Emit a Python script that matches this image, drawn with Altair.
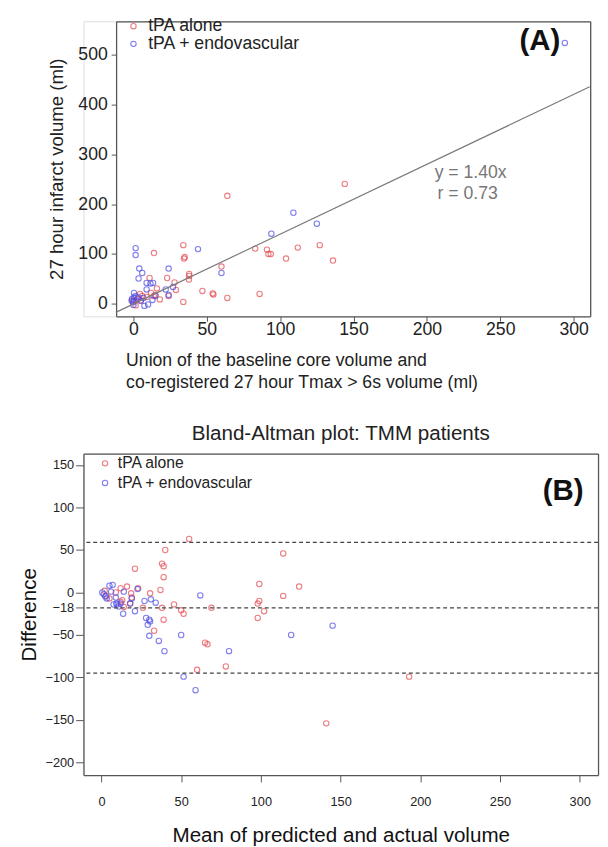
import altair as alt
import pandas as pd

# ---------------- Panel A data ----------------
groups = ["tPA alone", "tPA + endovascular"]
a_red_x = [144, 64, 34, 14, 35, 34.5, 83, 91, 92, 93.6, 112, 127, 104, 136, 60, 38, 38, 37.8, 23, 11,
           28, 47, 54, 54.5, 64, 86, 34, 29, 16, 18, 24, 12, 13.8, 6, 4.5, 2.7, 1.5, -0.5, 15, 0.5, 5, 9]
a_red_y = [241, 217, 118, 102, 94, 91, 111, 109, 100, 100, 113, 118, 91, 87, 75, 60, 56, 49, 52, 52,
           43, 26, 21, 19, 12, 20, 4, 28, 31, 9, 16, 22, 16, 16, 20, 10, -3, 4.6, 18, 8, 6, 14]
a_blue_x = [294, 109, 125, 94, 44, 1.5, 1.5, 24, 4, 6, 3.5, 60, 9, 11.6, 13.4, 9, 22, 27, 24, 13,
            10, 7.5, 15, 0.4, 0.4, -1, 0, 3.3, 5, 0, 1.5, -1.2, 6.8]
a_blue_y = [524, 183, 161, 141, 110, 112, 98, 71, 71, 62, 51, 62, 42, 41, 42, 29, 29, 34, 18, 8,
            -1, -4, 16, 22, 13, 10, 3.5, 13, 7, -2, 16, 6.5, 12]
fit_x = [-12, 311]
fit_y = [-17, 436]
a_xticks = [0, 50, 100, 150, 200, 250, 300]
a_yticks = [0, 100, 200, 300, 400, 500]

# ---------------- Panel B data ----------------
b_red_x = [55, 40, 114, 21, 38, 39, 39, 99, 124, 37, 30.5, 23, 16, 12, 114, 99, 98, 102, 69, 45.5,
           38, 50, 51.5, 39, 98, 26, 33, 65, 66.5, 60, 78, 193, 141, 18.6, 19, 13, 14, 18, 5, 3, 2, 9, 12]
b_red_y = [63, 50, 46, 28, 34, 31, 18, 10, 7, 3, -1, 5, 7, 5, -4, -10, -13, -22, -18, -14,
           -18, -21, -25, -32, -30, -18, -45, -59, -61, -91, -87, -99, -154, -1, -6, -9, -17, -13, -7, -4, 2, 0, -11]
b_blue_x = [145, 119, 62, 80, 50, 51.5, 59, 39.5, 36, 30, 29, 28, 30, 30.5, 27, 31, 34, 21, 13.6, 14,
            7, 5, 9, 7.6, 9.3, 10.7, 10, 6, 0.5, 1.4, 2.4, 3.3, 19, 18, 22.6, 12]
b_blue_y = [-39, -50, -3.5, -69, -50, -99, -115, -69, -57, -51, -38, -30, -32, -34, -10, -8, -12, -22, -25, 1,
            9, 8, -6, -14, -13, -16.5, -14, 1, 0, -2, -4.6, -7, -7, -13, 4, -13]
b_lines = [59, -18, -95]
b_xticks = [0, 50, 100, 150, 200, 250, 300]
b_yticks = [150, 100, 50, 0, -18, -50, -100, -150, -200]

RED = "#e5484d"
BLUE = "#4a4ae6"
FONT = "Liberation Sans"
AXC = "#555555"

dfA = pd.DataFrame({
    "x": a_red_x + a_blue_x,
    "y": a_red_y + a_blue_y,
    "group": [groups[0]] * len(a_red_x) + [groups[1]] * len(a_blue_x),
})
dfFit = pd.DataFrame({"x": fit_x, "y": fit_y})
dfAnnA = pd.DataFrame({"x": [277, 205.3, 207.3], "y": [528, 262, 220],
                       "t": ["(A)", "y = 1.40x", "r = 0.73"], "k": ["big", "eq", "eq"]})

dfB = pd.DataFrame({
    "x": b_red_x + b_blue_x,
    "y": b_red_y + b_blue_y,
    "group": [groups[0]] * len(b_red_x) + [groups[1]] * len(b_blue_x),
})
dfLines = pd.DataFrame({"y": b_lines})
dfAnnB = pd.DataFrame({"x": [289.6], "y": [119], "t": ["(B)"]})

color_scale = alt.Scale(domain=groups, range=[RED, BLUE])

# ---------------- Panel A ----------------
xA = alt.Scale(domain=[-11.8, 311.3], range=[33.3, 517], nice=False, zero=False)
yA = alt.Scale(domain=[-25, 567.5], nice=False, zero=False)

frame_axis = dict(labels=False, ticks=False, grid=False, domainColor=AXC, domainWidth=1.3)

fitA = alt.Chart(dfFit).mark_line(color="#7a7a7a", strokeWidth=1.2).encode(
    x=alt.X("x:Q", scale=xA, axis=alt.Axis(orient="top", title=None, **frame_axis)),
    y=alt.Y("y:Q", scale=yA, axis=alt.Axis(orient="right", title=None, **frame_axis)),
)

pointsA = alt.Chart(dfA).mark_point(filled=False, size=30, strokeWidth=1.1).encode(
    x=alt.X("x:Q", scale=xA, axis=alt.Axis(
        orient="bottom", values=a_xticks, grid=False, domainColor=AXC, domainWidth=1.3, tickColor=AXC,
        tickSize=5, labelFontSize=18, labelColor="#222", labelPadding=0, labelFont=FONT,
        title=["Union of the baseline core volume and", "co-registered 27 hour Tmax > 6s volume (ml)"],
        titleFontSize=18, titleFontWeight="normal", titleColor="#222", titleFont=FONT,
        titleAnchor="start", titleAlign="left", titleX=43, titlePadding=13, titleLineHeight=23)),
    y=alt.Y("y:Q", scale=yA, axis=alt.Axis(
        orient="left", values=a_yticks, grid=False, offset=-33.3, domainColor=AXC, domainWidth=1.3,
        tickColor=AXC, tickSize=5, labelFontSize=18, labelColor="#222", labelPadding=4, labelFont=FONT,
        title="27 hour infarct volume (ml)", titleFontSize=19, titleFontWeight="normal",
        titleColor="#222", titleFont=FONT, titlePadding=12)),
    color=alt.Color("group:N", scale=color_scale, legend=alt.Legend(
        title=None, orient="none", legendX=42, legendY=-4, padding=0, rowPadding=0,
        symbolType="circle", symbolSize=30, symbolStrokeWidth=1.1, symbolFillColor="transparent",
        labelFontSize=18, labelColor="#222", labelFont=FONT, labelOffset=6)),
)

annA = alt.Chart(dfAnnA).transform_filter(alt.datum.k == "big").mark_text(
    fontSize=30, fontWeight="bold", font=FONT, color="#111", align="center", baseline="middle").encode(
    x=alt.X("x:Q", scale=xA, axis=None), y=alt.Y("y:Q", scale=yA, axis=None), text="t:N")
eqA = alt.Chart(dfAnnA).transform_filter(alt.datum.k == "eq").mark_text(
    fontSize=18, font=FONT, color="#777", align="left", baseline="middle").encode(
    x=alt.X("x:Q", scale=xA, axis=None), y=alt.Y("y:Q", scale=yA, axis=None), text="t:N")

chartA = alt.layer(pointsA, fitA, annA, eqA).resolve_axis(x="independent", y="independent").properties(
    width=517, height=301)

# ---------------- Panel B ----------------
xB = alt.Scale(domain=[-11.3, 311.5], nice=False, zero=False)
yB = alt.Scale(domain=[-214.8, 163.5], nice=False, zero=False)

pointsB = alt.Chart(dfB).mark_point(filled=False, size=30, strokeWidth=1.1).encode(
    x=alt.X("x:Q", scale=xB, axis=alt.Axis(
        orient="bottom", values=b_xticks, grid=False, domainColor=AXC, domainWidth=1.3, tickColor=AXC,
        tickSize=7, labelFontSize=13, labelColor="#222", labelPadding=14, labelFont=FONT,
        title="Mean of predicted and actual volume", titleFontSize=21, titleFontWeight="normal",
        titleColor="#111", titleFont=FONT, titlePadding=17)),
    y=alt.Y("y:Q", scale=yB, axis=alt.Axis(
        orient="left", values=b_yticks, grid=False, domainColor=AXC, domainWidth=1.3, tickColor=AXC,
        tickSize=8, labelFontSize=13, labelColor="#222", labelPadding=2, labelFont=FONT,
        title="Difference", titleFontSize=21, titleFontWeight="normal", titleColor="#111",
        titleFont=FONT, titlePadding=6)),
    color=alt.Color("group:N", scale=color_scale, legend=alt.Legend(
        title=None, orient="none", legendX=14, legendY=2, padding=0, rowPadding=4,
        symbolType="circle", symbolSize=30, symbolStrokeWidth=1.1, symbolFillColor="transparent",
        labelFontSize=16, labelColor="#222", labelFont=FONT, labelOffset=5)),
)
linesB = alt.Chart(dfLines).mark_rule(color="#444", strokeDash=[4, 3], strokeWidth=1.3).encode(
    y=alt.Y("y:Q", scale=yB, axis=alt.Axis(orient="right", title=None, **frame_axis)),
)
topB = alt.Chart(dfAnnB).mark_text(fontSize=30, fontWeight="bold", font=FONT, color="#111",
                                   align="center", baseline="middle").encode(
    x=alt.X("x:Q", scale=xB, axis=alt.Axis(orient="top", title=None, **frame_axis)),
    y=alt.Y("y:Q", scale=yB, axis=None),
    text="t:N")

chartB = alt.layer(pointsB, linesB, topB).resolve_axis(x="independent", y="independent").properties(
    width=525, height=328,
    title=alt.TitleParams("Bland-Altman plot: TMM patients", fontSize=21, fontWeight="normal",
                          font=FONT, color="#222", offset=10, anchor="middle"),
)

chart = alt.vconcat(chartA, chartB, spacing=30).resolve_scale(color="independent").properties(
    padding={"left": 10, "top": 0, "right": 0, "bottom": 0},
).configure_view(stroke="transparent").configure(font=FONT)

chart.save("out.html", embed_options={"renderer": "svg", "actions": False})
